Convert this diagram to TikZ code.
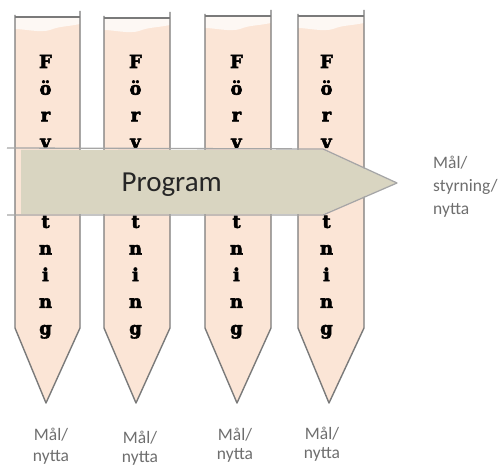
\documentclass[tikz,border=0pt]{standalone}
\usepackage{fontspec}
\setmainfont{Carlito}
\newfontfamily\slabfont{DejaVu Serif}[BoldFeatures={FakeBold=3}]
\definecolor{peach}{HTML}{FBE5D6}
\definecolor{khaki}{HTML}{D9D5C1}
\definecolor{edgegray}{HTML}{7A7A7A}
\definecolor{arrowedge}{HTML}{A6A6A6}
\definecolor{labelgray}{HTML}{6E6E6E}
\definecolor{progtext}{HTML}{262626}

\begin{document}
\begin{tikzpicture}[x=1pt,y=-1pt,
  coledge/.style={draw=edgegray,line width=1.4pt,line join=round},
  arrowline/.style={draw=arrowedge,line width=1.3pt,line join=round},
  letterstyle/.style={font=\slabfont\bfseries\fontsize{18}{18}\selectfont,
    inner sep=0pt,anchor=base,text=black},
  goal/.style={font=\fontsize{17.5}{17.5}\selectfont,text=labelgray,inner sep=0pt},
  progstyle/.style={font=\fontsize{29}{29}\selectfont,text=progtext,inner sep=0pt,anchor=base}
]
\useasboundingbox (0,0) rectangle (499,468);

% Four pointed "Förvaltning" columns
\foreach \L/\R/\T/\tip/\cx/\n in {15/80/17/46/45.5/1, 104/170/18/136/135.5/2,
                                  205/271/16/237/236.5/3, 298/364/16/329/326.5/4}{
  \fill[peach] (\L,\T) -- (\R,\T) -- (\R,328) -- (\tip,403) -- (\L,328) -- cycle;
  % pale band at the top of each column
  \fill[white,opacity=.75] (\L,\T) -- (\R,\T) -- (\R,\T+7)
     .. controls (\R-15,\T+10) and (\L+45,\T+9) .. (\L+35,\T+13)
     .. controls (\L+25,\T+16) and (\L+10,\T+12) .. (\L,\T+12) -- cycle;
  \draw[coledge] (\L,\T-2) -- (\L,328) -- (\tip,403) -- (\R,328) -- (\R,\T-6);
  \draw[coledge] (\L,\T) -- (\R,\T);
  \foreach \ch [count=\k from 0] in {F,ö,r,v,a,l,t,n,i,n,g}
    \node[letterstyle] (c\n-\k) at (\cx,68+26.65*\k) {\ch};
}

% Program arrow across the columns
\fill[khaki] (21,150) -- (323,150) -- (396,183) -- (323,214) -- (21,214) -- cycle;
\draw[arrowline] (7,148) -- (323,149) -- (397,183) -- (323,215) -- (7,215);
\node[progstyle] (program) at (171.7,191.7) {Program};

% Goal on the right of the arrow
\node[goal,anchor=base west] (goal1) at (433,169) {Mål/};
\node[goal,anchor=base west] (goal2) at (433,192) {styrning/};
\node[goal,anchor=base west] (goal3) at (433,215) {nytta};

% Goals under each column
\foreach \x/\y/\n in {51/441/1, 140/443/2, 235/440/3, 322/439/4}{
  \node[goal,anchor=base] (mal\n) at (\x,\y) {Mål/};
  \node[goal,anchor=base] (nytta\n) at (\x,\y+20) {nytta};
}
\end{tikzpicture}
\end{document}
